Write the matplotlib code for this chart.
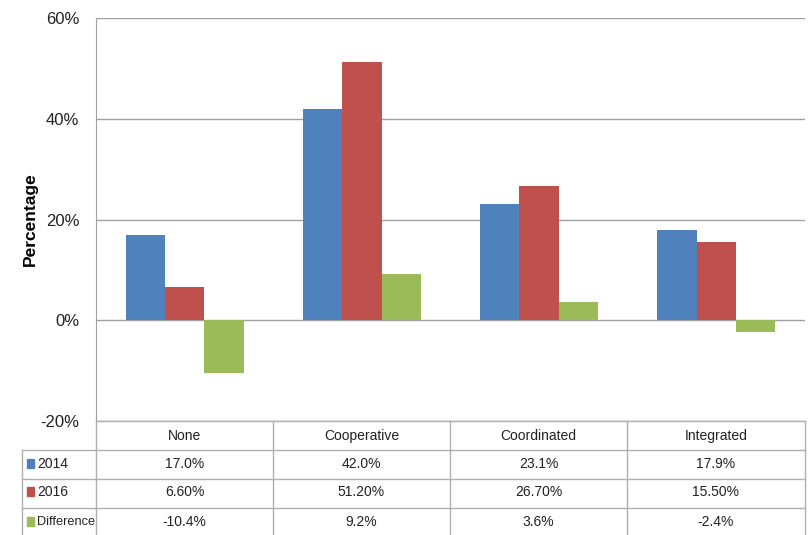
import matplotlib.pyplot as plt
import numpy as np
from matplotlib.patches import Rectangle

categories = ['None', 'Cooperative', 'Coordinated', 'Integrated']
series = ['2014', '2016', 'Difference']
v2014 = [17.0, 42.0, 23.1, 17.9]
v2016 = [6.6, 51.2, 26.7, 15.5]
vdiff = [-10.4, 9.2, 3.6, -2.4]
labels2014 = ['17.0%', '42.0%', '23.1%', '17.9%']
labels2016 = ['6.60%', '51.20%', '26.70%', '15.50%']
labelsdiff = ['-10.4%', '9.2%', '3.6%', '-2.4%']
colors = ['#4F81BD', '#C0504D', '#9BBB59']

plt.rcParams['font.family'] = ['Liberation Sans', 'DejaVu Sans']

W, H = 812, 535
fig = plt.figure(figsize=(W / 100, H / 100), dpi=100)

# plot area in pixels
L, R, T, B = 96, 805, 18, 421
ax = fig.add_axes([L / W, 1 - B / H, (R - L) / W, (B - T) / H])

x = np.arange(len(categories))
bw = 0.222
for i, vals in enumerate([v2014, v2016, vdiff]):
    ax.bar(x + (i - 1) * bw, vals, bw, color=colors[i], zorder=3)

ax.set_xlim(-0.5, len(categories) - 0.5)
ax.set_ylim(-20, 60)
ax.set_yticks([-20, 0, 20, 40, 60])
ax.set_yticklabels(['-20%', '0%', '20%', '40%', '60%'], fontsize=12, color='#222222')
ax.tick_params(axis='y', length=0, pad=12)
ax.set_xticks([])
ax.grid(axis='y', color='#a0a0a0', linewidth=1, zorder=0)
for s in ['top', 'right', 'bottom']:
    ax.spines[s].set_visible(False)
ax.spines['left'].set_color('#a0a0a0')

def fx(px):
    return px / W
def fy(py):
    return 1 - py / H

fig.text(fx(30), fy(219), 'Percentage', rotation=90, ha='center', va='center',
         fontsize=12.5, fontweight='bold', color='black')

# data table below the plot
lc = '#b0b0b0'
rows = [B, 450, 479, 508, H]
cols = [L, 273, 450, 627, R]
tleft = 22

# horizontal lines
fig.add_artist(plt.Line2D([fx(L), fx(R)], [fy(B), fy(B)], color=lc, lw=1))
for r in rows[1:4]:
    fig.add_artist(plt.Line2D([fx(tleft), fx(R)], [fy(r), fy(r)], color=lc, lw=1))
# vertical lines
for c in cols:
    fig.add_artist(plt.Line2D([fx(c), fx(c)], [fy(B), fy(H)], color=lc, lw=1))
fig.add_artist(plt.Line2D([fx(tleft), fx(tleft)], [fy(450), fy(H)], color=lc, lw=1))

fs = 10
# header
for j, cat in enumerate(categories):
    cx = (cols[j] + cols[j + 1]) / 2
    fig.text(fx(cx), fy(436), cat, ha='center', va='center', fontsize=fs, color='#222222')

table_labels = [labels2014, labels2016, labelsdiff]
row_y = [464, 492, 522]
for i, name in enumerate(series):
    cy = row_y[i]
    fig.add_artist(Rectangle((fx(27), fy(cy + 4)), 7 / W, 9 / H, color=colors[i],
                             transform=fig.transFigure))
    fig.text(fx(37), fy(cy), name, ha='left', va='center', fontsize=fs if i < 2 else 9.2,
             color='#222222')
    for j, lab in enumerate(table_labels[i]):
        cx = (cols[j] + cols[j + 1]) / 2
        fig.text(fx(cx), fy(cy), lab, ha='center', va='center', fontsize=fs, color='#222222')

fig.savefig('out.png', dpi=100)
